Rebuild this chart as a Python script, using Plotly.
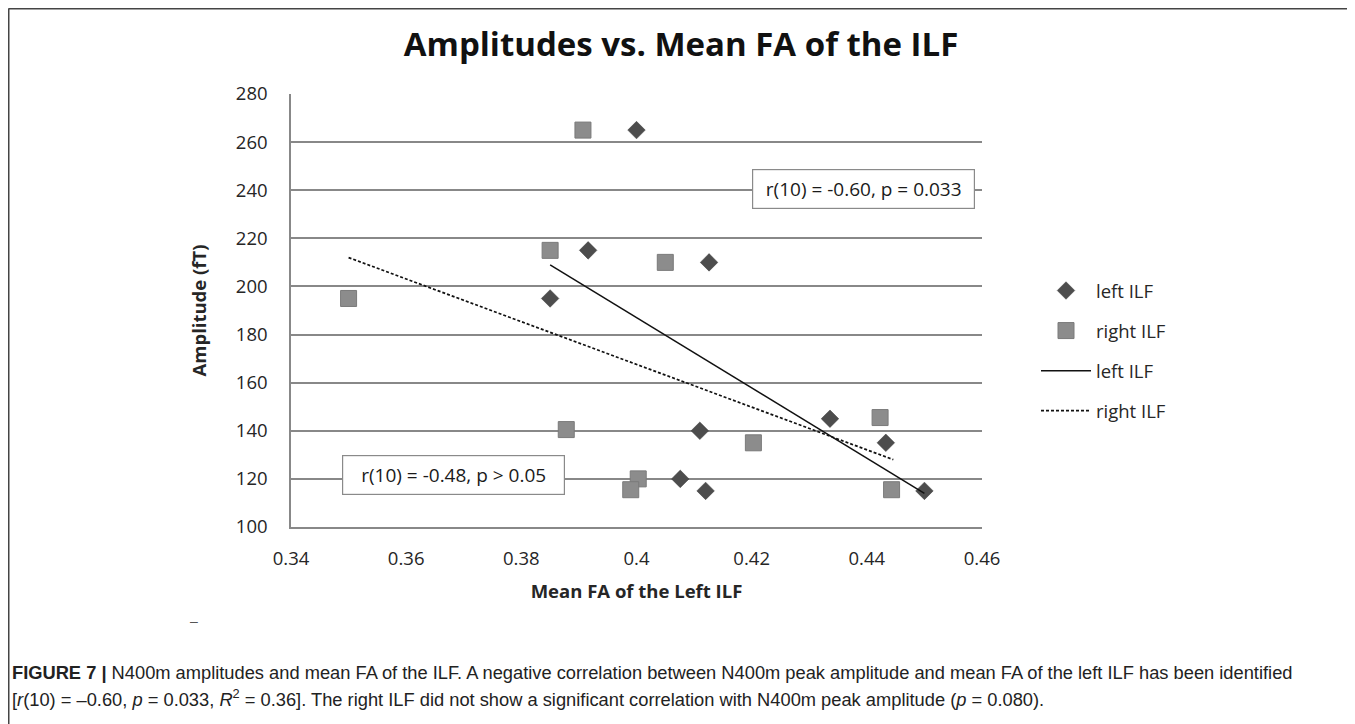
import plotly.graph_objects as go

# ---- data ----
left_fa = [0.400, 0.3916, 0.385, 0.4126, 0.411, 0.412, 0.4076, 0.4336, 0.4433, 0.450]
left_amp = [265, 215, 195, 210, 140, 115, 120, 145, 135, 115]

right_fa = [0.3907, 0.385, 0.405, 0.350, 0.3878, 0.4003, 0.399, 0.4203, 0.4423, 0.4443]
right_amp = [265, 215, 210, 195, 140.5, 120, 115.5, 135, 145.5, 115.5]

left_trend_fa = [0.385, 0.450]
left_trend_amp = [209, 114]
right_trend_fa = [0.350, 0.4446]
right_trend_amp = [212, 128]

x_ticks = [0.34, 0.36, 0.38, 0.40, 0.42, 0.44, 0.46]
x_tick_labels = ["0.34", "0.36", "0.38", "0.4", "0.42", "0.44", "0.46"]
y_ticks = [100, 120, 140, 160, 180, 200, 220, 240, 260, 280]

title_text = "Amplitudes vs. Mean FA of the ILF"
x_title = "Mean FA of the Left ILF"
y_title = "Amplitude (fT)"
ann_left = "r(10) = -0.60, p = 0.033"
ann_right = "r(10) = -0.48, p > 0.05"
caption1 = ("<b>FIGURE 7 |</b> N400m amplitudes and mean FA of the ILF. A negative correlation between "
            "N400m peak amplitude and mean FA of the left ILF has been identified")
caption2 = ("[<i>r</i>(10) = \u20130.60, <i>p</i> = 0.033, <i>R</i><sup>2</sup> = 0.36]. The right ILF did not show "
            "a significant correlation with N400m peak amplitude (<i>p</i> = 0.080).")

OFF = 8  # page body margin
W, H = 1355 - OFF, 724 - OFF
# plot area in page pixels
L, R, T, B = 291 - OFF, 982 - OFF, 94 - OFF, 527 - OFF
pw, ph = R - L, B - T


def px(xp):
    return (xp - OFF - L) / pw


def py(yp):
    return (B - (yp - OFF)) / ph


FONT = "Open Sans, Liberation Sans, sans-serif"
TXT = "#262626"

fig = go.Figure()
fig.add_trace(go.Scatter(x=left_fa, y=left_amp, mode="markers", name="left ILF",
                         legendgroup="a",
                         marker=dict(symbol="diamond", size=13.5, color="#4d4d4d",
                                     line=dict(width=0.5, color="#3d3d3d"))))
fig.add_trace(go.Scatter(x=right_fa, y=right_amp, mode="markers", name="right ILF",
                         legendgroup="b",
                         marker=dict(symbol="square", size=16, color="#8c8c8c",
                                     line=dict(width=1, color="#7a7a7a"))))
fig.add_trace(go.Scatter(x=left_trend_fa, y=left_trend_amp, mode="lines", name="left ILF",
                         legendgroup="c",
                         line=dict(color="#111111", width=1.5)))
fig.add_trace(go.Scatter(x=right_trend_fa, y=right_trend_amp, mode="lines", name="right ILF",
                         legendgroup="d",
                         line=dict(color="#111111", width=1.7, dash="3px,2px")))

fig.update_layout(
    width=W, height=H, autosize=False,
    margin=dict(l=L, r=W - R, t=T, b=H - B),
    paper_bgcolor="white", plot_bgcolor="white",
    font=dict(family=FONT, color=TXT),
    title=dict(text="<b>" + title_text + "</b>", x=(681 - OFF) / W, xanchor="center",
               y=1 - (44 - OFF) / H, yanchor="middle", yref="container",
               font=dict(family=FONT, size=33, color="#111111")),
    showlegend=True,
    legend=dict(x=px(1036), y=py(272), xanchor="left", yanchor="top",
                font=dict(family=FONT, size=18.5, color=TXT),
                tracegroupgap=13, bgcolor="rgba(0,0,0,0)", itemwidth=50),
    xaxis=dict(range=[0.34, 0.46], tickvals=x_ticks, ticktext=x_tick_labels,
               showgrid=False, zeroline=False, showline=True, linecolor="#888888", linewidth=1.5,
               ticks="outside", ticklen=14, tickcolor="rgba(0,0,0,0)",
               tickfont=dict(family=FONT, size=18.5, color=TXT),
               title=dict(text="<b>" + x_title + "</b>", standoff=16,
                          font=dict(family=FONT, size=18.5, color=TXT))),
    yaxis=dict(range=[100, 280], tickvals=y_ticks,
               showgrid=True, gridcolor="#888888", gridwidth=1.5,
               zeroline=False, showline=True, linecolor="#888888", linewidth=1.5,
               ticks="outside", ticklen=18, tickcolor="rgba(0,0,0,0)",
               tickfont=dict(family=FONT, size=18.5, color=TXT),
               title=dict(text="<b>" + y_title + "</b>", standoff=24,
                          font=dict(family=FONT, size=18.5, color=TXT))),
)

# correlation boxes
for xv, yv, txt in [(0.4395, 240.5, ann_left), (0.3682, 121.8, ann_right)]:
    fig.add_annotation(x=xv, y=yv, xref="x", yref="y", text=txt, showarrow=False,
                       font=dict(family=FONT, size=19, color="#1a1a1a"),
                       width=207, height=24, borderpad=7,
                       bgcolor="white", bordercolor="#8a8a8a", borderwidth=1.2)

# page frame
fig.add_shape(type="line", xref="paper", yref="paper", x0=px(8.5), x1=px(1355), y0=py(8.5), y1=py(8.5),
              line=dict(color="#444444", width=2))
fig.add_shape(type="line", xref="paper", yref="paper", x0=px(8.5), x1=px(8.5), y0=py(8.5), y1=py(724),
              line=dict(color="#444444", width=2))

# small dash mark
fig.add_annotation(x=px(188), y=py(631), xref="paper", yref="paper", text="\u2013", showarrow=False,
                   font=dict(family="Liberation Sans", size=14, color="#555555"))

# caption
for yy, txt in [(672, caption1), (698, caption2)]:
    fig.add_annotation(x=px(10), y=py(yy), xref="paper", yref="paper", text=txt, showarrow=False,
                       xanchor="left", yanchor="middle", align="left",
                       font=dict(family="Liberation Sans, Arial", size=18.3, color="#222222"))

fig.write_html("out.html")
